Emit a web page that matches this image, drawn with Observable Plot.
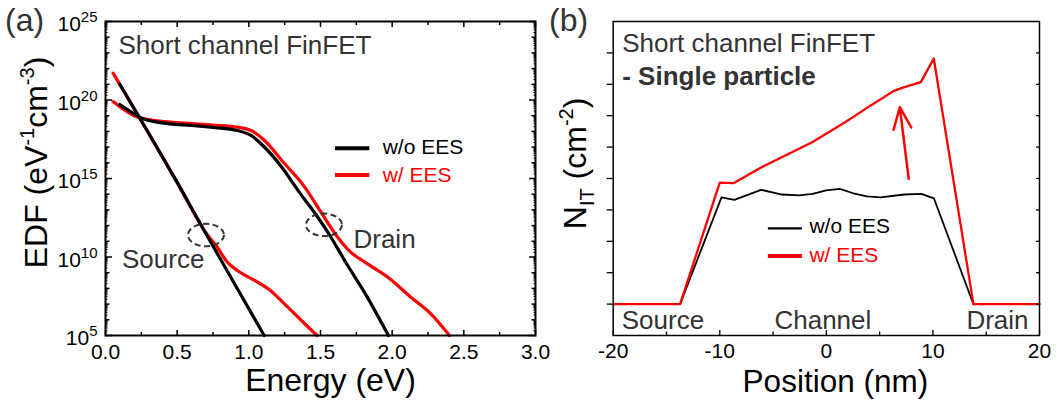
<!DOCTYPE html>
<html><head><meta charset="utf-8">
<script src="https://cdn.jsdelivr.net/npm/d3@7"></script>
<script src="https://cdn.jsdelivr.net/npm/@observablehq/plot@0.6"></script>
<style>
html,body{margin:0;padding:0;background:#fff;width:1063px;height:402px;overflow:hidden;}
#wrap{position:relative;width:1063px;height:402px;}
#wrap svg{position:absolute;top:0;}
</style></head><body><div id="wrap"></div>
<script>
// ---------- Panel (a): EDF vs energy (log10 of EDF) ----------
const srcBlackE   = [0.10, 0.30, 0.50, 0.70, 0.90, 1.107];
const srcBlackLog = [21.0, 17.9, 14.75, 11.5, 8.3, 5.0];
const srcRedE     = [0.053, 0.30, 0.50, 0.70, 0.78, 0.85, 0.92, 1.06, 1.15, 1.25, 1.39, 1.476];
const srcRedLog   = [21.71, 17.9, 14.75, 11.55, 10.62, 9.67, 9.14, 8.40, 7.87, 7.0, 5.75, 5.0];
const drnBlackE   = [0.10, 0.20, 0.26, 0.45, 0.60, 0.75, 0.92, 1.015, 1.11, 1.23, 1.35, 1.46, 1.56, 1.68, 1.81, 1.974];
const drnBlackLog = [19.71, 19.12, 18.80, 18.48, 18.38, 18.25, 18.06, 17.74, 16.99, 15.72, 14.15, 12.8, 11.45, 9.6, 7.7, 5.0];
const drnRedE     = [0.053, 0.20, 0.30, 0.45, 0.60, 0.75, 0.92, 1.015, 1.11, 1.23, 1.39, 1.50, 1.62, 1.71, 1.81, 1.97, 2.13, 2.27, 2.40];
const drnRedLog   = [19.9, 19.0, 18.75, 18.6, 18.5, 18.4, 18.27, 18.06, 17.42, 16.15, 14.45, 12.9, 11.26, 10.31, 9.67, 8.71, 7.44, 6.38, 5.0];
const ellipseE    = [0.701, 1.524];
const ellipseLog  = [11.40, 12.05];
const labelsA     = ["Source", "Drain"];
const labelsAE    = [0.115, 1.73];
const labelsALog  = [9.31, 10.56];
const xTicksA     = [0, 0.5, 1.0, 1.5, 2.0, 2.5, 3.0];
const yExpA       = [5, 10, 15, 20, 25];

// ---------- Panel (b): N_IT vs position ----------
const posBlack = [-20, -13.72, -9.84, -8.63, -6.13, -4.17, -2.57, -1.29, -0.02, 1.26, 2.53, 3.81, 5.08, 7.32, 8.91, 10.09, 13.8, 20];
const nitBlack = [1, 1, 4.40, 4.32, 4.64, 4.49, 4.46, 4.51, 4.62, 4.67, 4.53, 4.43, 4.40, 4.49, 4.51, 4.37, 1, 1];
const posRed   = [-20, -13.72, -10.0, -8.72, -6.08, -2.57, -1.29, 1.26, 2.26, 4.13, 6.34, 7.32, 8.87, 10.08, 13.8, 20];
const nitRed   = [1, 1, 4.87, 4.85, 5.36, 5.95, 6.16, 6.69, 6.90, 7.32, 7.79, 7.91, 8.07, 8.82, 1, 1];
const arrowB   = [{x1: 7.73, y1: 4.99, x2: 6.89, y2: 7.27}];
const labelsB  = ["Source", "Channel", "Drain"];
const labelsBX = [-19.2, -4.87, 13.14];
const xTicksB  = [-20, -10, 0, 10, 20];

const FONT = '"Liberation Sans", Arial, Helvetica, sans-serif';
const RED = "#ff0000", GREY = "#333333";
const mk = (E, L) => E.map((e, i) => ({e, v: 10 ** L[i]}));
const mkB = (X, Y) => X.map((x, i) => ({x, y: Y[i]}));

// custom dashed-ellipse symbol
const ellipseSymbol = {draw(ctx) {
  const rx = 18, ry = 11.2, k = 0.5523;
  ctx.moveTo(rx, 0);
  ctx.bezierCurveTo(rx, ry * k, rx * k, ry, 0, ry);
  ctx.bezierCurveTo(-rx * k, ry, -rx, ry * k, -rx, 0);
  ctx.bezierCurveTo(-rx, -ry * k, -rx * k, -ry, 0, -ry);
  ctx.bezierCurveTo(rx * k, -ry, rx, -ry * k, rx, 0);
  ctx.closePath();
}};

const yMajA = yExpA.map(n => 10 ** n);
const yDecA = d3.range(5, 26).filter(n => n % 5 !== 0).map(n => 10 ** n);
const ySubA = d3.range(5, 25).flatMap(n => d3.range(2, 10).map(m => m * 10 ** n));
const xMinA = d3.range(0.25, 3, 0.5);

const style = {fontFamily: FONT, fontSize: "21px", color: "#000", background: "transparent", overflow: "visible"};

const svgA = Plot.plot({
  width: 545, height: 402,
  marginLeft: 105, marginRight: 10, marginTop: 21, marginBottom: 67,
  x: {domain: [0, 3], label: null},
  y: {type: "log", domain: [1e5, 1e25], label: null},
  style,
  marks: [
    Plot.line(mk(srcRedE, srcRedLog), {x: "e", y: "v", stroke: RED, strokeWidth: 3.2, curve: "monotone-x"}),
    Plot.line(mk(drnRedE, drnRedLog), {x: "e", y: "v", stroke: RED, strokeWidth: 3.2, curve: "monotone-x"}),
    Plot.line(mk(srcBlackE, srcBlackLog), {x: "e", y: "v", stroke: "#000", strokeWidth: 3.2, curve: "monotone-x"}),
    Plot.line(mk(drnBlackE, drnBlackLog), {x: "e", y: "v", stroke: "#000", strokeWidth: 3.2, curve: "monotone-x"}),
    Plot.dot(mk(ellipseE, ellipseLog), {x: "e", y: "v", symbol: ellipseSymbol, fill: "none", stroke: GREY, strokeWidth: 2, strokeDasharray: "6,3.5"}),
    Plot.text(labelsA.map((t, i) => ({t, e: labelsAE[i], v: 10 ** labelsALog[i]})), {x: "e", y: "v", text: "t", textAnchor: "start", lineAnchor: "bottom", fontSize: 26, fill: GREY}),
    Plot.text(["Short channel FinFET"], {frameAnchor: "top-left", dx: 13, dy: 14, lineAnchor: "top", textAnchor: "start", fontSize: 26, fill: GREY}),
    // axes: labels
    Plot.axisX({anchor: "bottom", ticks: xTicksA, tickSize: 0, tickPadding: 9, tickFormat: d3.format(".1f"), fontSize: 21, label: null}),
    Plot.axisY({anchor: "left", ticks: yMajA, tickSize: 0, tickPadding: 8, dy: 3, tickFormat: d => "10^" + Math.round(Math.log10(d)), fontSize: 21, label: null}),
    // axes: inward ticks
    Plot.axisX({anchor: "bottom", ticks: xTicksA, tickSize: 5, insetBottom: 5, fill: "none", strokeWidth: 1.5}),
    Plot.axisX({anchor: "bottom", ticks: xMinA, tickSize: 3, insetBottom: 3, fill: "none", strokeWidth: 1.5}),
    Plot.axisX({anchor: "top", ticks: xTicksA, tickSize: 5, insetTop: 5, fill: "none", strokeWidth: 1.5}),
    Plot.axisX({anchor: "top", ticks: xMinA, tickSize: 3, insetTop: 3, fill: "none", strokeWidth: 1.5}),
    Plot.axisY({anchor: "left", ticks: yMajA, tickSize: 7, insetLeft: 7, fill: "none", strokeWidth: 1.5}),
    Plot.axisY({anchor: "left", ticks: yDecA, tickSize: 4.5, insetLeft: 4.5, fill: "none", strokeWidth: 1.5}),
    Plot.axisY({anchor: "left", ticks: ySubA, tickSize: 2.5, insetLeft: 2.5, fill: "none", strokeWidth: 1}),
    Plot.axisY({anchor: "right", ticks: yMajA, tickSize: 7, insetRight: 7, fill: "none", strokeWidth: 1.5}),
    Plot.axisY({anchor: "right", ticks: yDecA, tickSize: 4.5, insetRight: 4.5, fill: "none", strokeWidth: 1.5}),
    Plot.axisY({anchor: "right", ticks: ySubA, tickSize: 2.5, insetRight: 2.5, fill: "none", strokeWidth: 1}),
    Plot.frame({stroke: "#000", strokeWidth: 2})
  ]
});

const svgB = Plot.plot({
  width: 518, height: 402,
  marginLeft: 67.7, marginRight: 24, marginTop: 21, marginBottom: 67,
  x: {domain: [-20, 20], label: null},
  y: {domain: [0, 10], label: null},
  style,
  marks: [
    Plot.line(mkB(posBlack, nitBlack), {x: "x", y: "y", stroke: "#000", strokeWidth: 1.8}),
    Plot.line(mkB(posRed, nitRed), {x: "x", y: "y", stroke: RED, strokeWidth: 2.3}),
    Plot.arrow(arrowB, {x1: "x1", y1: "y1", x2: "x2", y2: "y2", stroke: RED, strokeWidth: 2.5, headLength: 14, headAngle: 45}),
    Plot.text(labelsB.map((t, i) => ({t, x: labelsBX[i], y: 0.22})), {x: "x", y: "y", text: "t", textAnchor: "start", lineAnchor: "bottom", fontSize: 26, fill: GREY}),
    Plot.text(["Short channel FinFET"], {frameAnchor: "top-left", dx: 9, dy: 12, lineAnchor: "top", textAnchor: "start", fontSize: 26, fill: GREY}),
    Plot.text(["- Single particle"], {frameAnchor: "top-left", dx: 9, dy: 45, lineAnchor: "top", textAnchor: "start", fontSize: 26, fontWeight: "bold", fill: GREY}),
    Plot.axisX({anchor: "bottom", ticks: xTicksB, tickSize: 0, tickPadding: 8, tickFormat: d => String(d), fontSize: 21, label: null}),
    Plot.axisX({anchor: "bottom", ticks: xTicksB, tickSize: 5, insetBottom: 5, fill: "none", strokeWidth: 1.3}),
    Plot.axisX({anchor: "bottom", ticks: [-15, -5, 5, 15], tickSize: 3.5, insetBottom: 3.5, fill: "none", strokeWidth: 1.3}),
    Plot.axisY({anchor: "left", ticks: d3.range(1, 10), tickSize: 6, fill: "none", strokeWidth: 1.3}),
    Plot.axisY({anchor: "right", ticks: d3.range(1, 10), tickSize: 4, insetRight: 4, fill: "none", strokeWidth: 1.3}),
    Plot.frame({stroke: "#000", strokeWidth: 1.5})
  ]
});

const wrap = document.getElementById("wrap");
svgA.style.left = "0px";
svgB.style.left = "545px";
wrap.appendChild(svgA);
wrap.appendChild(svgB);

// superscript tick labels for log axis
d3.select(svgA).selectAll('g[aria-label="y-axis tick label"] text').each(function () {
  const [b, e] = this.textContent.split("^");
  this.textContent = "";
  const s = d3.select(this);
  s.append("tspan").text(b);
  s.append("tspan").attr("dy", -9).attr("font-size", 15).text(e);
});

function addText(svg, x, y, parts, opts = {}) {
  const t = d3.select(svg).append("text")
    .attr("x", x).attr("y", y)
    .attr("font-family", FONT)
    .attr("font-size", opts.size || 32)
    .attr("fill", opts.fill || "#000")
    .attr("text-anchor", opts.anchor || "middle")
    .attr("font-weight", opts.weight || "normal");
  if (opts.rotate) t.attr("transform", `rotate(-90 ${x} ${y})`);
  for (const p of parts) {
    const ts = t.append("tspan").text(p.t);
    if (p.dy) ts.attr("dy", p.dy);
    if (p.size) ts.attr("font-size", p.size);
  }
  return t;
}
// axis titles
addText(svgA, 330.5, 391, [{t: "Energy (eV)"}], {size: 32});
addText(svgB, 290.4, 391.5, [{t: "Position (nm)"}], {size: 31.5});
addText(svgA, 46.7, 162.5, [{t: "EDF (eV"}, {t: "-1", dy: -13, size: 20}, {t: "cm", dy: 13}, {t: "-3", dy: -13, size: 20}, {t: ")", dy: 13}], {size: 32, rotate: true});
addText(svgB, 41, 163.4, [{t: "N"}, {t: "IT", dy: 8, size: 20}, {t: " (cm", dy: -8}, {t: "-2", dy: -13, size: 20}, {t: ")", dy: 13}], {size: 32, rotate: true});
// panel letters
addText(svgA, 5, 31, [{t: "(a)"}], {size: 32, anchor: "start", fill: GREY});
addText(svgB, 4, 31, [{t: "(b)"}], {size: 32, anchor: "start", fill: GREY});

// legends
function legend(svg, x0, x1, xt, rows, size, widths) {
  const g = d3.select(svg).append("g").attr("text-anchor", "start");
  rows.forEach((r, i) => {
    g.append("line").attr("x1", x0).attr("x2", x1).attr("y1", r.y).attr("y2", r.y)
      .attr("stroke", r.color).attr("stroke-width", widths[i]);
    g.append("text").attr("x", xt).attr("y", r.base).attr("font-family", FONT)
      .attr("text-anchor", "start")
      .attr("font-size", size).attr("fill", r.color).text(r.label);
  });
}
legend(svgA, 335, 369.3, 382.7, [
  {y: 148.3, base: 154, color: "#000", label: "w/o EES"},
  {y: 175, base: 181.7, color: RED, label: "w/ EES"}], 21, [4, 4]);
legend(svgB, 767.9 - 545, 801.9 - 545, 809.4 - 545, [
  {y: 228.3, base: 233.3, color: "#000", label: "w/o EES"},
  {y: 256, base: 261.7, color: RED, label: "w/ EES"}], 21, [2.3, 3.8]);
</script></body></html>
